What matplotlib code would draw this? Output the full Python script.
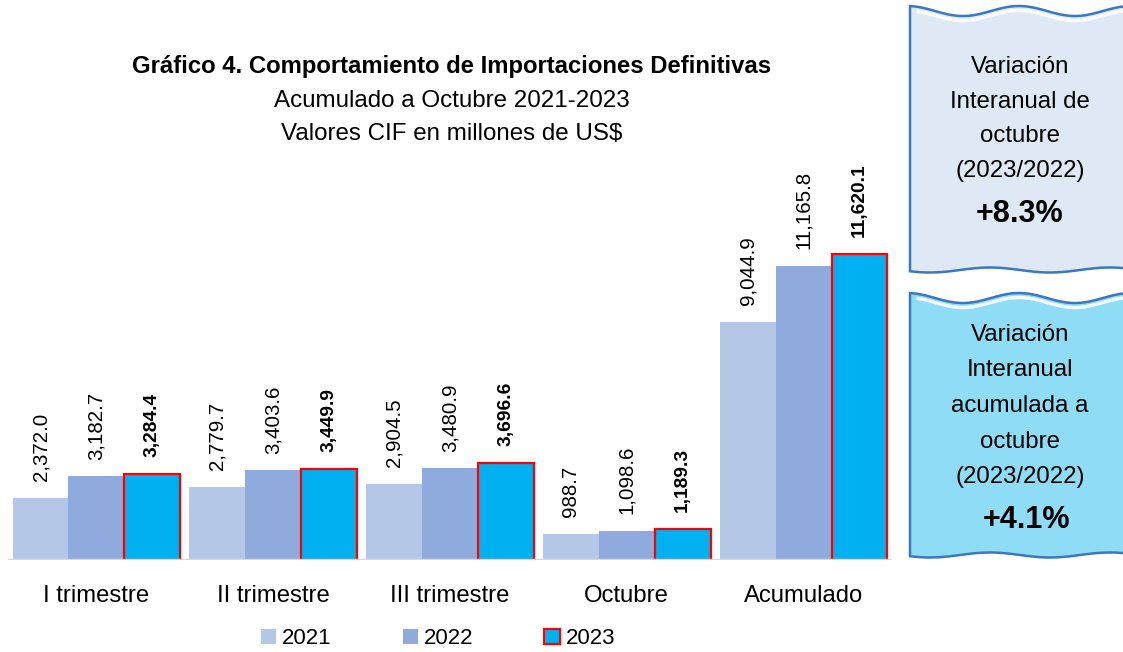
import numpy as np
import matplotlib
matplotlib.use("Agg")
import matplotlib.pyplot as plt
from matplotlib.patches import Polygon

plt.rcParams['font.family'] = ['Liberation Sans', 'DejaVu Sans']

# --- Datos ---
categorias = ["I trimestre", "II trimestre", "III trimestre", "Octubre", "Acumulado"]
anios = ["2021", "2022", "2023"]
v2021 = [2372.0, 2779.7, 2904.5, 988.7, 9044.9]
v2022 = [3182.7, 3403.6, 3480.9, 1098.6, 11165.8]
v2023 = [3284.4, 3449.9, 3696.6, 1189.3, 11620.1]

W, H = 1123, 652
fig = plt.figure(figsize=(W / 100, H / 100), dpi=100)

# --- Graphique principal ---
ax = fig.add_axes([8 / W, (H - 560) / H, 884 / W, 410 / H])
x = np.arange(len(categorias))
w = 0.316
series = [v2021, v2022, v2023]
colores = ["#b4c7e7", "#8faadc", "#00b0f0"]
bars = []
for i, (vals, col) in enumerate(zip(series, colores)):
    if i == 2:
        b = ax.bar(x + (i - 1) * w, vals, width=w, color=col, edgecolor="#ff0000", linewidth=1.6, zorder=2)
    else:
        b = ax.bar(x + (i - 1) * w, vals, width=w, color=col, linewidth=0, zorder=2)
    bars.append(b)
    for xi, v in zip(x, vals):
        ax.annotate(f"{v:,.1f}", (xi + (i - 1) * w, v), xytext=(0, 12), textcoords="offset points",
                    rotation=90, ha="center", va="bottom",
                    fontsize=13.8 if i == 2 else 14.8,
                    fontweight="bold" if i == 2 else "normal")

ax.set_xlim(-0.5, 4.5)
ax.set_ylim(0, 410 / 26.33 * 1000)
ax.axhline(0, color="#d9d9d9", lw=2.5, zorder=3)
for s in ax.spines.values():
    s.set_visible(False)
ax.set_yticks([])
ax.set_xticks(x)
ax.set_xticklabels(categorias, fontsize=17.2)
ax.tick_params(axis="x", length=0, pad=18)

fig.legend(bars, anios, loc="center", bbox_to_anchor=(438 / W, 1 - 639 / H), ncol=3, frameon=False,
           fontsize=16, handlelength=0.68, handleheight=0.68, handletextpad=0.27, columnspacing=3.2)

# --- Titres ---
fig.text(452 / W, 1 - 66 / H, "Gráfico 4. Comportamiento de Importaciones Definitivas",
         ha="center", va="center", fontsize=17.2, fontweight="bold")
fig.text(452 / W, 1 - 101 / H, "Acumulado a Octubre 2021-2023", ha="center", va="center", fontsize=17.4)
fig.text(452 / W, 1 - 134 / H, "Valores CIF en millones de US$", ha="center", va="center", fontsize=17.4)

# --- Cadres à droite ---
ov = fig.add_axes([0, 0, 1, 1])
ov.set_xlim(0, W)
ov.set_ylim(H, 0)
ov.axis("off")

def cadre(y_top, y_bot, fill):
    xs = np.linspace(910, W + 5, 80)
    top = y_top + 5 * np.sin((xs - 935) / 112 * 2 * np.pi)
    bot = y_bot + 2.5 * np.sin((xs - 900) / 120 * 2 * np.pi)
    pts = np.vstack([np.column_stack([xs, top]), np.column_stack([xs[::-1], bot[::-1]])])
    ov.add_patch(Polygon(pts, closed=True, facecolor=fill, edgecolor="#3a78c2", lw=1.8))
    ov.plot(xs[3:-2], top[3:-2] + 4.5, color="white", lw=2.5, alpha=0.9)

cadre(11, 270, "#dfe9f5")
cadre(298, 555, "#8fdcf6")

fig.text(1020 / W, 1 - 119 / H, "Variación\nInteranual de\noctubre\n(2023/2022)",
         ha="center", va="center", fontsize=17.3, linespacing=1.76)
fig.text(1020 / W, 1 - 214 / H, "+8.3%", ha="center", va="center", fontsize=22, fontweight="bold")
fig.text(1020 / W, 1 - 406 / H, "Variación\nInteranual\nacumulada a\noctubre\n(2023/2022)",
         ha="center", va="center", fontsize=17.3, linespacing=1.8)
fig.text(1026 / W, 1 - 520 / H, "+4.1%", ha="center", va="center", fontsize=22, fontweight="bold")

fig.savefig("out.png", dpi=100)
